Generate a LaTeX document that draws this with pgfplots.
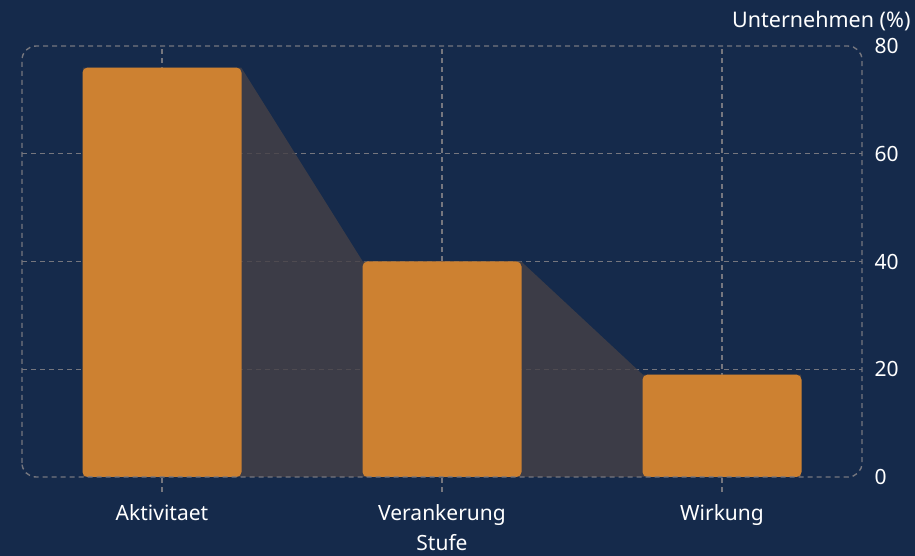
\documentclass[border=0pt]{standalone}
\usepackage{pgfplots}
\pgfplotsset{compat=1.18}
\usepackage{fontspec}
\setmainfont{Noto Sans}
\definecolor{bgc}{HTML}{152A4B}
\definecolor{barc}{HTML}{CD8131}
\definecolor{func}{RGB}{70,65,70}
\definecolor{gridc}{HTML}{75767E}
\begin{document}
\begin{tikzpicture}[x=1pt,y=1pt]
\fill[bgc] (0,0) rectangle (915,556);
\begin{axis}[
  at={(22pt,79pt)}, anchor=south west,
  scale only axis, width=840pt, height=431pt,
  xmin=-0.5, xmax=2.5, ymin=0, ymax=80,
  xtick={0,1,2}, xticklabels={Aktivitaet,Verankerung,Wirkung},
  ytick={0,20,40,60,80},
  yticklabel pos=right,
  axis line style={draw=none},
  xmajorgrids=true, ymajorgrids=false,
  grid style={gridc, line width=1.4pt, dash pattern=on 5pt off 4pt},
  major tick length=15pt,
  xtick style={gridc, line width=1.4pt, dash pattern=on 5pt off 4pt},
  ytick style={draw=none},
  xtick pos=bottom,
  tick align=outside,
  font=\fontsize{21}{24}\selectfont,
  ticklabel style={white},
  xticklabel style={yshift=-9pt},
  yticklabel style={xshift=-6pt, anchor=west},
  /pgf/number format/assume math mode=true,
  xlabel={Stufe}, xlabel style={white, at={(axis description cs:0.5,0)}, anchor=center, yshift=-66pt},
  clip=false,
]
\draw[gridc, line width=1.4pt, dash pattern=on 5pt off 4pt] (axis cs:-0.5,20) -- (axis cs:2.5,20);
\draw[gridc, line width=1.4pt, dash pattern=on 5pt off 4pt] (axis cs:-0.5,40) -- (axis cs:2.5,40);
\draw[gridc, line width=1.4pt, dash pattern=on 5pt off 4pt] (axis cs:-0.5,60) -- (axis cs:2.5,60);
\addplot[draw=none, fill=func, fill opacity=0.8] coordinates {
  (-0.283,0) (-0.283,76) (0.283,76) (0.717,40) (1.283,40) (1.717,19) (2.283,19) (2.283,0)} -- cycle;
\addplot[ybar, bar width=159pt, fill=barc, draw=none, rounded corners=5pt] coordinates {(0,76) (1,40) (2,19)};
\draw[gridc, line width=1.4pt, dash pattern=on 5pt off 4pt, rounded corners=14pt] (rel axis cs:0,0) rectangle (rel axis cs:1,1);
\node[white, anchor=base east, font=\fontsize{21.5}{24}\selectfont] at ([xshift=52pt,yshift=18pt]rel axis cs:1,1) {Unternehmen (\%)};
\end{axis}
\end{tikzpicture}
\end{document}
